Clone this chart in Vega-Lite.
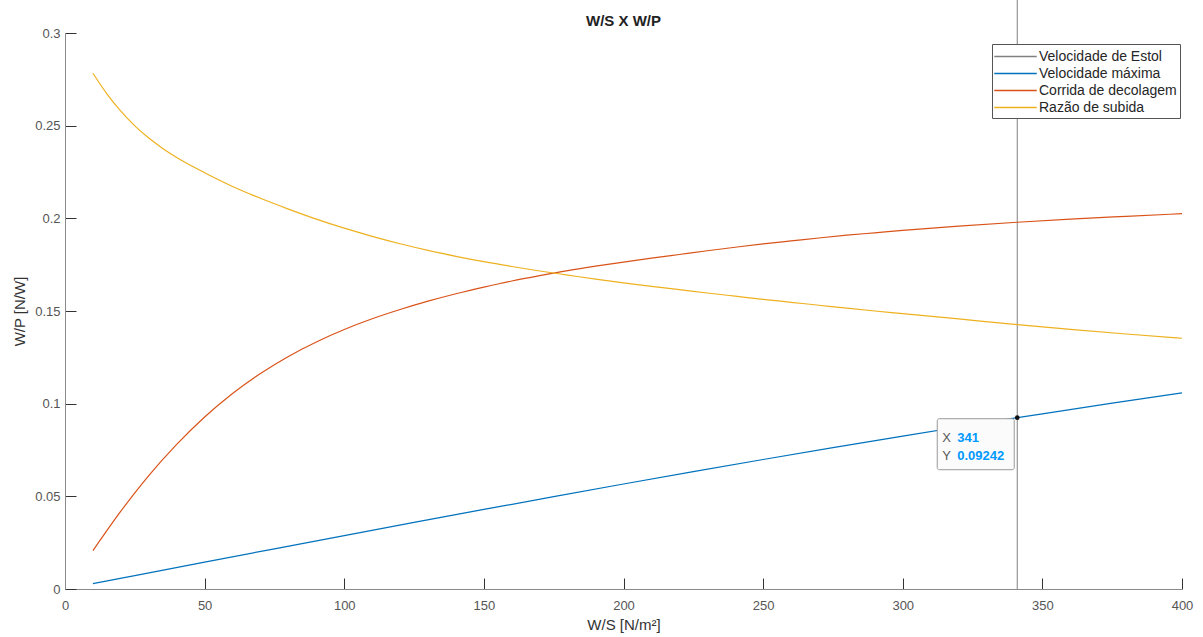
{
  "$schema": "https://vega.github.io/schema/vega-lite/v6.json",
  "width": 1117,
  "height": 556,
  "autosize": "none",
  "padding": {"left": 65, "top": 33, "right": 21, "bottom": 48},
  "background": "#ffffff",
  "config": {
    "view": {"stroke": null},
    "font": "Liberation Sans"
  },
  "title": {
    "text": "W/S X W/P",
    "font": "Liberation Sans",
    "fontSize": 15,
    "fontWeight": "bold",
    "color": "#222222",
    "anchor": "middle",
    "frame": "group",
    "offset": -29
  },
  "datasets": {
    "curves": [
      {"x": 10, "y": 0.0029, "s": "Velocidade máxima"},
      {"x": 25, "y": 0.00725, "s": "Velocidade máxima"},
      {"x": 50, "y": 0.01448, "s": "Velocidade máxima"},
      {"x": 75, "y": 0.02168, "s": "Velocidade máxima"},
      {"x": 100, "y": 0.02883, "s": "Velocidade máxima"},
      {"x": 125, "y": 0.03592, "s": "Velocidade máxima"},
      {"x": 150, "y": 0.04292, "s": "Velocidade máxima"},
      {"x": 175, "y": 0.04984, "s": "Velocidade máxima"},
      {"x": 200, "y": 0.05664, "s": "Velocidade máxima"},
      {"x": 225, "y": 0.06333, "s": "Velocidade máxima"},
      {"x": 250, "y": 0.06988, "s": "Velocidade máxima"},
      {"x": 275, "y": 0.07628, "s": "Velocidade máxima"},
      {"x": 300, "y": 0.08253, "s": "Velocidade máxima"},
      {"x": 325, "y": 0.08862, "s": "Velocidade máxima"},
      {"x": 341, "y": 0.09242, "s": "Velocidade máxima"},
      {"x": 350, "y": 0.09453, "s": "Velocidade máxima"},
      {"x": 375, "y": 0.10026, "s": "Velocidade máxima"},
      {"x": 400, "y": 0.1058, "s": "Velocidade máxima"},
      {"x": 10, "y": 0.0207, "s": "Corrida de decolagem"},
      {"x": 20, "y": 0.042, "s": "Corrida de decolagem"},
      {"x": 30, "y": 0.0612, "s": "Corrida de decolagem"},
      {"x": 40, "y": 0.078, "s": "Corrida de decolagem"},
      {"x": 50, "y": 0.0928, "s": "Corrida de decolagem"},
      {"x": 60, "y": 0.1055, "s": "Corrida de decolagem"},
      {"x": 70, "y": 0.1163, "s": "Corrida de decolagem"},
      {"x": 80, "y": 0.1255, "s": "Corrida de decolagem"},
      {"x": 90, "y": 0.1333, "s": "Corrida de decolagem"},
      {"x": 100, "y": 0.14, "s": "Corrida de decolagem"},
      {"x": 110, "y": 0.1458, "s": "Corrida de decolagem"},
      {"x": 120, "y": 0.1508, "s": "Corrida de decolagem"},
      {"x": 130, "y": 0.1553, "s": "Corrida de decolagem"},
      {"x": 140, "y": 0.1593, "s": "Corrida de decolagem"},
      {"x": 150, "y": 0.1629, "s": "Corrida de decolagem"},
      {"x": 160, "y": 0.1662, "s": "Corrida de decolagem"},
      {"x": 170, "y": 0.1691, "s": "Corrida de decolagem"},
      {"x": 180, "y": 0.1718, "s": "Corrida de decolagem"},
      {"x": 190, "y": 0.1742, "s": "Corrida de decolagem"},
      {"x": 200, "y": 0.1764, "s": "Corrida de decolagem"},
      {"x": 210, "y": 0.1785, "s": "Corrida de decolagem"},
      {"x": 220, "y": 0.1805, "s": "Corrida de decolagem"},
      {"x": 230, "y": 0.1825, "s": "Corrida de decolagem"},
      {"x": 240, "y": 0.1844, "s": "Corrida de decolagem"},
      {"x": 250, "y": 0.1862, "s": "Corrida de decolagem"},
      {"x": 260, "y": 0.1878, "s": "Corrida de decolagem"},
      {"x": 270, "y": 0.1894, "s": "Corrida de decolagem"},
      {"x": 280, "y": 0.1909, "s": "Corrida de decolagem"},
      {"x": 290, "y": 0.1922, "s": "Corrida de decolagem"},
      {"x": 300, "y": 0.1935, "s": "Corrida de decolagem"},
      {"x": 320, "y": 0.1958, "s": "Corrida de decolagem"},
      {"x": 341, "y": 0.1979, "s": "Corrida de decolagem"},
      {"x": 360, "y": 0.1996, "s": "Corrida de decolagem"},
      {"x": 380, "y": 0.2011, "s": "Corrida de decolagem"},
      {"x": 400, "y": 0.2025, "s": "Corrida de decolagem"},
      {"x": 10, "y": 0.2783, "s": "Razão de subida"},
      {"x": 15, "y": 0.2672, "s": "Razão de subida"},
      {"x": 20, "y": 0.2578, "s": "Razão de subida"},
      {"x": 25, "y": 0.2499, "s": "Razão de subida"},
      {"x": 30, "y": 0.2433, "s": "Razão de subida"},
      {"x": 35, "y": 0.2377, "s": "Razão de subida"},
      {"x": 40, "y": 0.2328, "s": "Razão de subida"},
      {"x": 50, "y": 0.2246, "s": "Razão de subida"},
      {"x": 60, "y": 0.2172, "s": "Razão de subida"},
      {"x": 70, "y": 0.2108, "s": "Razão de subida"},
      {"x": 80, "y": 0.205, "s": "Razão de subida"},
      {"x": 90, "y": 0.1996, "s": "Razão de subida"},
      {"x": 100, "y": 0.1947, "s": "Razão de subida"},
      {"x": 110, "y": 0.1903, "s": "Razão de subida"},
      {"x": 120, "y": 0.1863, "s": "Razão de subida"},
      {"x": 130, "y": 0.1827, "s": "Razão de subida"},
      {"x": 140, "y": 0.1795, "s": "Razão de subida"},
      {"x": 150, "y": 0.1766, "s": "Razão de subida"},
      {"x": 160, "y": 0.174, "s": "Razão de subida"},
      {"x": 170, "y": 0.1716, "s": "Razão de subida"},
      {"x": 180, "y": 0.1694, "s": "Razão de subida"},
      {"x": 190, "y": 0.1672, "s": "Razão de subida"},
      {"x": 200, "y": 0.1652, "s": "Razão de subida"},
      {"x": 210, "y": 0.1633, "s": "Razão de subida"},
      {"x": 220, "y": 0.1615, "s": "Razão de subida"},
      {"x": 230, "y": 0.1597, "s": "Razão de subida"},
      {"x": 240, "y": 0.158, "s": "Razão de subida"},
      {"x": 250, "y": 0.1563, "s": "Razão de subida"},
      {"x": 260, "y": 0.1547, "s": "Razão de subida"},
      {"x": 270, "y": 0.1531, "s": "Razão de subida"},
      {"x": 280, "y": 0.1515, "s": "Razão de subida"},
      {"x": 290, "y": 0.15, "s": "Razão de subida"},
      {"x": 300, "y": 0.1486, "s": "Razão de subida"},
      {"x": 320, "y": 0.1457, "s": "Razão de subida"},
      {"x": 341, "y": 0.1426, "s": "Razão de subida"},
      {"x": 360, "y": 0.1401, "s": "Razão de subida"},
      {"x": 380, "y": 0.1376, "s": "Razão de subida"},
      {"x": 400, "y": 0.1353, "s": "Razão de subida"}
    ],
    "stall": [
      {"x": 341, "y": 0, "y2": 0.3178, "s": "Velocidade de Estol"}
    ],
    "tip": [
      {"x": 341, "y": 0.09242, "xl": "X", "yl": "Y", "xv": "341", "yv": "0.09242"}
    ]
  },
  "encoding": {
    "x": {
      "field": "x",
      "type": "quantitative",
      "scale": {"domain": [0, 400], "nice": false, "zero": false},
      "axis": {
        "title": "W/S [N/m²]",
        "values": [0, 50, 100, 150, 200, 250, 300, 350, 400],
        "format": "d",
        "grid": false,
        "labelFlush": false,
        "tickSize": -11,
        "tickColor": "#333333",
        "domainColor": "#8a8a8a",
        "domainWidth": 1,
        "labelPadding": 21,
        "labelFont": "Liberation Sans",
        "labelFontSize": 13,
        "labelColor": "#555555",
        "titleFont": "Liberation Sans",
        "titleFontSize": 15,
        "titleFontWeight": "normal",
        "titleColor": "#333333",
        "titlePadding": 5
      }
    },
    "y": {
      "field": "y",
      "type": "quantitative",
      "scale": {"domain": [0, 0.3], "nice": false, "zero": false},
      "axis": {
        "title": "W/P [N/W]",
        "values": [0, 0.05, 0.1, 0.15, 0.2, 0.25, 0.3],
        "format": "~g",
        "grid": false,
        "labelFlush": false,
        "tickSize": -11,
        "tickColor": "#333333",
        "domainColor": "#8a8a8a",
        "domainWidth": 1,
        "labelPadding": 16,
        "labelFont": "Liberation Sans",
        "labelFontSize": 13,
        "labelColor": "#555555",
        "titleFont": "Liberation Sans",
        "titleFontSize": 15,
        "titleFontWeight": "normal",
        "titleColor": "#333333",
        "titlePadding": 7
      }
    }
  },
  "layer": [
    {
      "data": {"name": "stall"},
      "mark": {"type": "rule", "strokeWidth": 1, "clip": false},
      "encoding": {
        "y2": {"field": "y2"},
        "color": {
          "field": "s",
          "type": "nominal",
          "scale": {
            "domain": ["Velocidade de Estol", "Velocidade máxima", "Corrida de decolagem", "Razão de subida"],
            "range": ["#808080", "#0072BD", "#D95319", "#EDB120"]
          },
          "legend": {
            "title": null,
            "orient": "none",
            "legendX": 927,
            "legendY": 11,
            "symbolType": "M-2.5,0H2.5",
            "symbolSize": 289,
            "symbolOffset": 11,
            "symbolStrokeWidth": 1.4,
            "symbolFillColor": "transparent",
            "labelFont": "Liberation Sans",
            "labelFontSize": 14,
            "labelColor": "#262626",
            "labelOffset": 14,
            "padding": 3,
            "rowPadding": 0,
            "strokeColor": "#555555",
            "fillColor": "#ffffff",
            "encode": {
              "symbols": {
                "enter": {
                  "stroke": {"scale": "color", "field": "value"}
                },
                "update": {
                  "stroke": {"scale": "color", "field": "value"},
                  "strokeWidth": {"value": 1.4},
                  "opacity": {"value": 1}
                }
              }
            }
          }
        }
      }
    },
    {
      "data": {"name": "curves"},
      "mark": {"type": "line", "strokeWidth": 1.2, "interpolate": "monotone"},
      "encoding": {
        "color": {"field": "s", "type": "nominal"}
      }
    },
    {
      "data": {"name": "tip"},
      "mark": {
        "type": "rect",
        "fill": "#fbfbfb",
        "stroke": "#9a9a9a",
        "strokeWidth": 1,
        "cornerRadius": 2,
        "xOffset": -80,
        "x2Offset": -3,
        "yOffset": 1,
        "y2Offset": 52
      },
      "encoding": {
        "x2": {"field": "x"},
        "y2": {"field": "y"}
      }
    },
    {
      "data": {"name": "tip"},
      "mark": {"type": "point", "filled": true, "size": 22, "color": "#111111", "opacity": 1},
      "encoding": {}
    },
    {
      "data": {"name": "tip"},
      "mark": {"type": "text", "align": "left", "baseline": "middle", "dx": -75, "dy": 20, "font": "Liberation Sans", "fontSize": 13, "color": "#595959"},
      "encoding": {"text": {"field": "xl"}}
    },
    {
      "data": {"name": "tip"},
      "mark": {"type": "text", "align": "left", "baseline": "middle", "dx": -60, "dy": 20, "font": "Liberation Sans", "fontSize": 13, "fontWeight": "bold", "color": "#0099ff"},
      "encoding": {"text": {"field": "xv"}}
    },
    {
      "data": {"name": "tip"},
      "mark": {"type": "text", "align": "left", "baseline": "middle", "dx": -75, "dy": 38, "font": "Liberation Sans", "fontSize": 13, "color": "#595959"},
      "encoding": {"text": {"field": "yl"}}
    },
    {
      "data": {"name": "tip"},
      "mark": {"type": "text", "align": "left", "baseline": "middle", "dx": -60, "dy": 38, "font": "Liberation Sans", "fontSize": 13, "fontWeight": "bold", "color": "#0099ff"},
      "encoding": {"text": {"field": "yv"}}
    }
  ]
}
